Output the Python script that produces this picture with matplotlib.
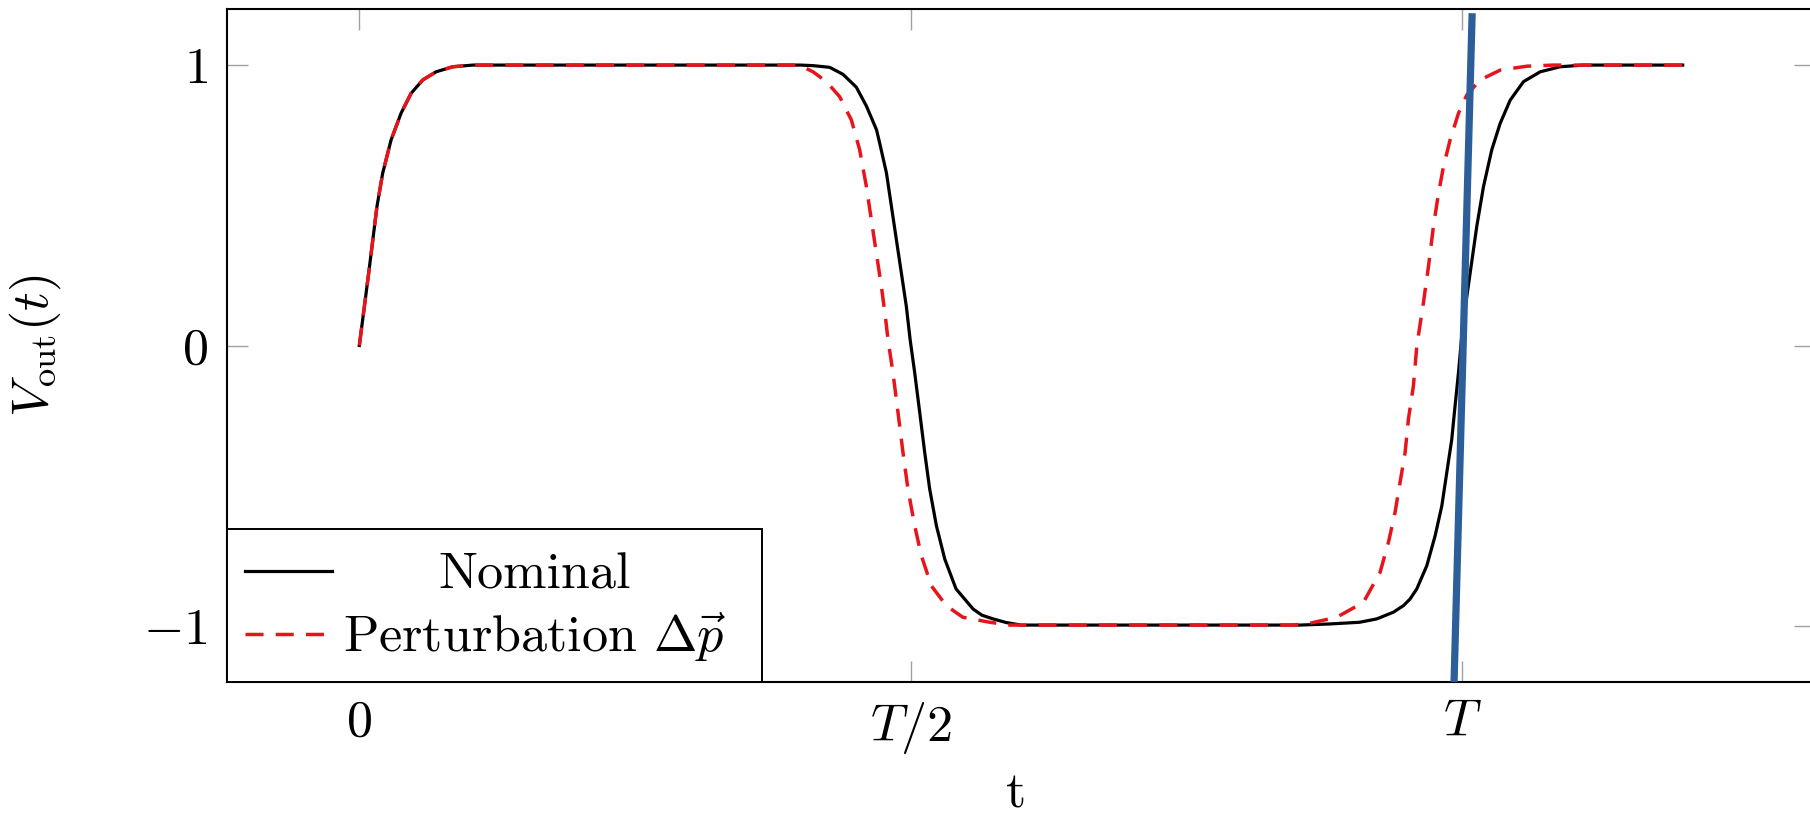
import matplotlib
matplotlib.use("Agg")
import matplotlib.pyplot as plt
from matplotlib.transforms import Bbox

plt.rcParams['font.family'] = 'serif'
plt.rcParams['font.serif'] = ['cmr10']
plt.rcParams['mathtext.fontset'] = 'cm'
plt.rcParams['axes.unicode_minus'] = False

# ---- data (t in units of T) ----
nominal_t = [0.0, 0.0085, 0.016, 0.0212, 0.0288, 0.0378, 0.0469, 0.0575, 0.0696, 0.0847,
             0.103, 0.13, 0.40, 0.4114, 0.4265, 0.4386, 0.4507, 0.4598, 0.469, 0.4719,
             0.478, 0.4825, 0.487, 0.4915, 0.496, 0.4995, 0.5036, 0.5082, 0.5127, 0.5172,
             0.5233, 0.5309, 0.5411, 0.5566, 0.5647, 0.5747, 0.5866, 0.60, 0.853, 0.88,
             0.907, 0.9226, 0.9377, 0.9467, 0.9528, 0.9589, 0.968, 0.9755, 0.9816, 0.9861,
             0.9906, 0.9936, 0.9967, 1.0005, 1.0073, 1.0133, 1.0194, 1.0269, 1.0345, 1.0436,
             1.0557, 1.0708, 1.0889, 1.11, 1.2]
nominal_v = [0.0, 0.259, 0.496, 0.615, 0.733, 0.828, 0.899, 0.947, 0.976, 0.994,
             1.0, 1.0, 1.0, 0.998, 0.992, 0.967, 0.921, 0.854, 0.769, 0.721,
             0.615, 0.496, 0.377, 0.259, 0.14, 0.02, -0.097, -0.24, -0.382, -0.512,
             -0.643, -0.762, -0.868, -0.94, -0.962, -0.975, -0.988, -0.997, -0.997, -0.993,
             -0.987, -0.975, -0.951, -0.928, -0.904, -0.868, -0.785, -0.679, -0.572, -0.453,
             -0.335, -0.216, -0.097, 0.07, 0.259, 0.425, 0.567, 0.698, 0.792, 0.875,
             0.941, 0.976, 0.994, 1.0, 1.0]

perturb_t = [0.0, 0.0085, 0.016, 0.0212, 0.0288, 0.0378, 0.0469, 0.0575, 0.0696, 0.0847,
             0.103, 0.13, 0.399, 0.4114, 0.4235, 0.4356, 0.4462, 0.4537, 0.4598, 0.4643,
             0.4688, 0.4734, 0.4773, 0.4794, 0.4839, 0.4885, 0.493, 0.4975, 0.5036, 0.5097,
             0.5187, 0.5323, 0.5472, 0.5717, 0.59, 0.845, 0.859, 0.8863, 0.9105, 0.9256,
             0.9332, 0.9392, 0.9437, 0.9483, 0.9513, 0.9558, 0.9589, 0.9649, 0.9695, 0.974,
             0.9786, 0.9831, 0.9891, 0.9967, 1.0042, 1.0163, 1.0345, 1.0587, 1.0826, 1.2]
perturb_v = [0.0, 0.259, 0.496, 0.615, 0.733, 0.828, 0.899, 0.947, 0.976, 0.994,
             1.0, 1.0, 1.0, 0.976, 0.941, 0.887, 0.804, 0.698, 0.567, 0.448,
             0.33, 0.211, 0.093, 0.021, -0.097, -0.24, -0.382, -0.512, -0.643, -0.75,
             -0.857, -0.928, -0.969, -0.987, -0.997, -0.997, -0.993, -0.969, -0.916, -0.809,
             -0.702, -0.595, -0.489, -0.382, -0.263, -0.145, -0.002, 0.152, 0.282, 0.425,
             0.543, 0.638, 0.733, 0.828, 0.893, 0.947, 0.982, 0.996, 1.0, 1.0]

# overlaid blue marker line (endpoints in data units)
marker_t = [0.9927, 1.0091]
marker_v = [-1.2, 1.185]

xtick_vals = [0.0, 0.5, 1.0]
xtick_labels = [r'$0$', r'$T/2$', r'$T$']
ytick_vals = [-1, 0, 1]
ytick_labels = [r'$-1$', r'$0$', r'$1$']
series_labels = ['Nominal', r'Perturbation $\Delta\vec{p}$']

W, H = 1810, 816
fig = plt.figure(figsize=(W / 100, H / 100), dpi=100)
ax = fig.add_axes([227 / W, 1 - 682 / H, (1815 - 227) / W, (682 - 9) / H])

FS = 37.5
ax.plot(nominal_t, nominal_v, color='black', lw=2.3, label=series_labels[0],
        solid_joinstyle='round')
ax.plot(perturb_t, perturb_v, color='#e8141c', lw=2.5, ls=(0, (5.2, 3.5)),
        label=series_labels[1], dash_joinstyle='round')
ax.plot(marker_t, marker_v, color='#2c5f9a', lw=5.2, solid_capstyle='butt',
        clip_on=False, zorder=5)

ax.set_xlim(-0.12, 1.32)
ax.set_ylim(-1.2, 1.2)
ax.set_xticks(xtick_vals)
ax.set_xticklabels(xtick_labels)
ax.set_yticks(ytick_vals)
ax.set_yticklabels(ytick_labels)
ax.tick_params(axis='both', direction='in', length=15, width=1.0, color='#a0a0a0',
               labelsize=FS, top=True, right=True)
ax.tick_params(axis='x', pad=13)
ax.tick_params(axis='y', pad=14)
for s in ax.spines.values():
    s.set_linewidth(1.5)
    s.set_color('black')

ax.set_ylabel(r'$V_{\mathrm{out}}(t)$', fontsize=FS, va='center', ha='center')
ax.yaxis.set_label_coords((35 - 227) / (1815 - 227), 0.5)
ax.set_xlabel('t', fontsize=FS, va='baseline')
ax.xaxis.set_label_coords((1016 - 227) / (1815 - 227), (682 - 808) / (682 - 9))

leg = ax.legend(loc='lower left', bbox_to_anchor=(0, 0), borderaxespad=0,
                fancybox=False, framealpha=1, edgecolor='black', fontsize=FS,
                handlelength=1.67, handletextpad=0.2, borderpad=0.35,
                labelspacing=0.22)
leg.get_frame().set_linewidth(1.4)

# center legend labels within the label column, with extra right/top room
fig.canvas.draw()
renderer = fig.canvas.get_renderer()
try:
    col = leg._legend_handle_box.get_children()[0]
    rows = col.get_children()
    tas = [r.get_children()[1] for r in rows]
    wmax = max(ta.get_bbox(renderer).width for ta in tas)
    for i, ta in enumerate(tas):
        ta._text.set_horizontalalignment('center')
        orig = ta.get_bbox
        extra_top = 6 if i == 0 else 0

        def gb(rend, orig=orig, wmax=wmax, extra_top=extra_top):
            b = orig(rend)
            return Bbox.from_bounds(-wmax / 2, b.y0, wmax + 18, b.height + extra_top)
        ta.get_bbox = gb
except Exception:
    pass

fig.savefig('out.png', dpi=100)
